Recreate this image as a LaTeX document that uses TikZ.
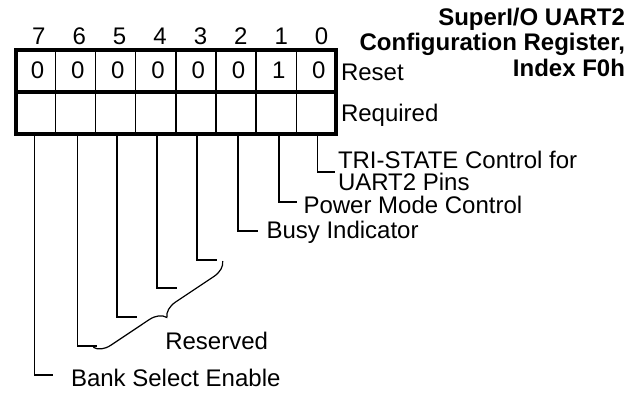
\documentclass[tikz,border=0pt]{standalone}
\usepackage{fontspec}
\setmainfont{Liberation Sans}
\usetikzlibrary{decorations.pathreplacing}
\begin{document}
\begin{tikzpicture}[x=1pt,y=-1pt,
  txt/.style={font=\fontsize{24}{22.5}\selectfont, inner sep=0pt, outer sep=0pt},
  ttl/.style={font=\fontsize{24}{25.8}\selectfont\bfseries, inner sep=0pt, outer sep=0pt},
  cellline/.style={line width=1.3pt},
  heavy/.style={line width=4pt},
  conn/.style={line width=1.2pt}]
\useasboundingbox (0,0) rectangle (635,392);
% register cells
\foreach \i in {1,...,7} \draw[cellline] ({15.5+40.1*\i},49.5) -- ({15.5+40.1*\i},134);
\draw[heavy] (15.5,92) -- (336.3,92);
\draw[heavy] (15.5,49.5) rectangle (336.3,134);
% bit numbers and reset values
\foreach \b/\v in {7/0,6/0,5/0,4/0,3/0,2/0,1/1,0/0} {
  \node[txt, anchor=base] (n\b) at ({38.8+40.41*(7-\b)},44) {\b};
  \node[txt, anchor=base] (v\b) at ({37.5+40.2*(7-\b)},78.3) {\v};
}
\node[txt, anchor=base west] (reset) at (341,80) {Reset};
\node[txt, anchor=base west] (required) at (341,121) {Required};
% title
\node[ttl, anchor=base east, align=right] (title) at (625,76.6)
  {SuperI/O UART2\\Configuration Register,\\Index F0h};
% connectors
\foreach \n/\x/\y/\xe in {0/317.7/172/335, 1/279/202/297, 2/238/231/258, 3/197/260/217,
  4/157/288/177, 5/117/317/137, 6/77.3/346/97, 7/34.3/375/53} {
  \coordinate (b\n) at (\x,134);
  \coordinate (e\n) at (\xe,\y);
  \draw[conn] (b\n) |- (e\n);
}
\node[txt, anchor=base west, align=left] (l0) at (338,190.5) {TRI-STATE Control for\\UART2 Pins};
\node[txt, anchor=base west] (l1) at (303.5,213.5) {Power Mode Control};
\node[txt, anchor=base west] (l2) at (266.5,238.5) {Busy Indicator};
\coordinate (br1) at (93.3,347.3);
\coordinate (br2) at (222.7,261);
\draw[conn, decorate, decoration={brace, mirror, amplitude=16pt}] (br1) -- (br2);
\node[txt, anchor=base west] (l3) at (165.3,349) {Reserved};
\node[txt, anchor=base west] (l7) at (71,386.5) {Bank Select Enable};
\end{tikzpicture}
\end{document}
